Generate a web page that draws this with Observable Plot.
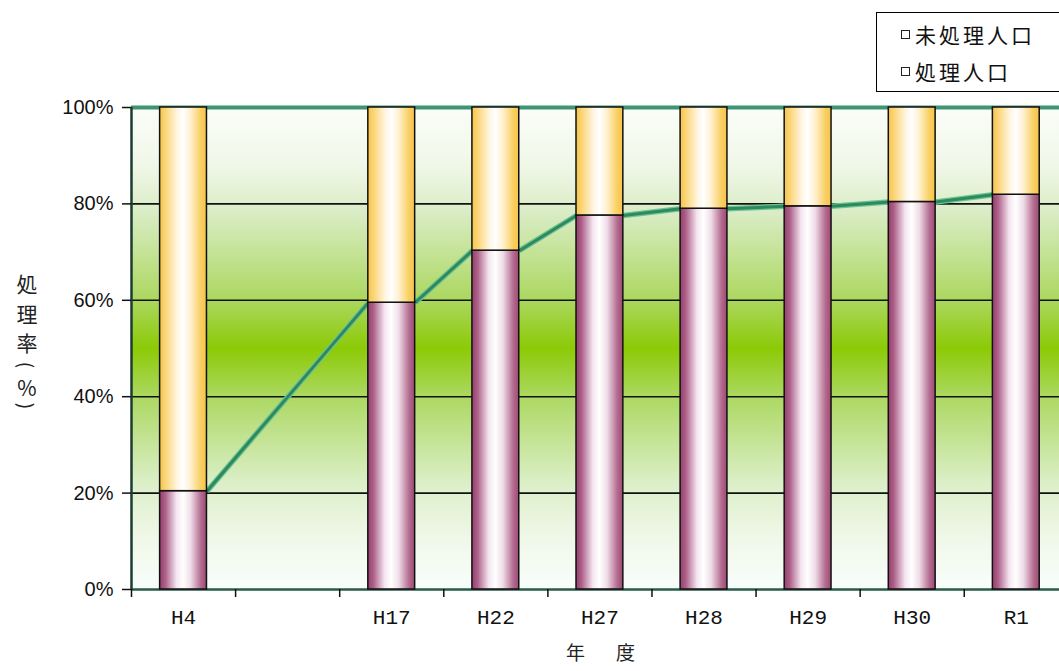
<!DOCTYPE html>
<html>
<head>
<meta charset="utf-8">
<script src="https://cdn.jsdelivr.net/npm/d3@7"></script>
<script src="https://cdn.jsdelivr.net/npm/@observablehq/plot@0.6"></script>
<style>
  html, body { margin: 0; padding: 0; background: #fff; overflow: hidden; }
  #wrap { position: relative; width: 1059px; height: 671px; }
  #wrap svg { display: block; max-width: none; }
  .legend { position: absolute; left: 876px; top: 12px; width: 200px; height: 80px; border: 1px solid #000; background: #fff; box-sizing: border-box; font-family: "Noto Sans CJK JP", sans-serif; font-size: 21px; color: #111; }
  .legend .item { position: absolute; left: 24px; display: flex; align-items: center; letter-spacing: 3px; white-space: nowrap; line-height: 26px; }
  .legend .key { display: inline-block; width: 7px; height: 7px; border: 1px solid #222; background: #fff; margin-right: 5px; }
  .ych { position: absolute; width: 30px; text-align: center; font-family: "Noto Sans CJK JP", sans-serif; color: #222; }
  .xtitle { position: absolute; left: 566px; top: 640px; font-family: "Noto Sans CJK JP", sans-serif; font-size: 19px; color: #222; letter-spacing: 6px; white-space: nowrap; line-height: 24px; }
</style>
</head>
<body>
<div id="wrap"></div>
<script>
// ---- data ----
const categories = ["H4", "", "H17", "H22", "H27", "H28", "H29", "H30", "R1"];
const treatedPct = [20.4, null, 59.5, 70.3, 77.6, 79.0, 79.5, 80.4, 81.9];
const yTicks = [0, 20, 40, 60, 80, 100];
const yTickLabels = ["0%", "20%", "40%", "60%", "80%", "100%"];
const legendLabels = ["未処理人口", "処理人口"];
const yTitleChars = ["処", "理", "率", "(", "%", ")"];
const xTitle = "年　度";

// ---- build ----
const rows = categories.map((c, i) => ({i, c, v: treatedPct[i]})).filter(d => d.v != null);
const labelled = categories.map((c, i) => ({i, c})).filter(d => d.c !== "");
const inset = 0.275;
const segs = [];
for (let k = 0; k < rows.length - 1; k++) {
  segs.push({x1: rows[k].i + 1 - inset, y1: rows[k].v, x2: rows[k + 1].i + inset, y2: rows[k + 1].v});
}

const chart = Plot.plot({
  width: 1059,
  height: 671,
  marginLeft: 131,
  marginRight: 0,
  marginTop: 107,
  marginBottom: 82,
  x: {domain: [0, 8.915], axis: null},
  y: {domain: [0, 100], axis: null},
  style: {background: "transparent", overflow: "visible"},
  marks: [
    Plot.frame({fill: "url(#bgGrad)", stroke: null}),
    Plot.ruleY([20, 40, 60, 80], {stroke: "#111", strokeWidth: 1.6}),
    Plot.ruleY([100], {stroke: "#3f9474", strokeWidth: 4}),
    Plot.ruleY([0], {stroke: "#2a5a48", strokeWidth: 2.5}),
    Plot.link(segs, {x1: "x1", y1: "y1", x2: "x2", y2: "y2", stroke: "#6fc296", strokeWidth: 5.5}),
    Plot.link(segs, {x1: "x1", y1: "y1", x2: "x2", y2: "y2", stroke: "#2c8a5c", strokeWidth: 3}),
    Plot.rect(rows, {x1: d => d.i + inset, x2: d => d.i + 1 - inset, y1: 0, y2: "v", fill: "url(#gMaroon)", stroke: "#111", strokeWidth: 1.5}),
    Plot.rect(rows, {x1: d => d.i + inset, x2: d => d.i + 1 - inset, y1: "v", y2: 100, fill: "url(#gYellow)", stroke: "#111", strokeWidth: 1.5}),
    Plot.ruleX([0], {stroke: "#1d3d30", strokeWidth: 2.5}),
    Plot.axisY({ticks: yTicks, tickFormat: d => yTickLabels[yTicks.indexOf(d)], tickSize: 9, tickPadding: 9,
      fontSize: 20, fontFamily: "Liberation Sans, Arial, sans-serif", letterSpacing: -0.6, stroke: "#111", strokeWidth: 1.5, fill: "#111"}),
    Plot.axisX({ticks: d3.range(0, 9), tickFormat: () => "", tickSize: 8, stroke: "#111", strokeWidth: 1.5}),
    Plot.text(labelled, {x: d => d.i + 0.5, y: 0, text: "c", dy: 28, fontSize: 21, fontFamily: "Liberation Mono, monospace", fill: "#111"})
  ]
});

const defs = `
<defs>
  <linearGradient id="bgGrad" x1="0" y1="0" x2="0" y2="1">
    <stop offset="0" stop-color="#fbfdf8"/>
    <stop offset="0.12" stop-color="#f0f7e8"/>
    <stop offset="0.22" stop-color="#d9ecc4"/>
    <stop offset="0.4" stop-color="#abd75e"/>
    <stop offset="0.5" stop-color="#8cca06"/>
    <stop offset="0.6" stop-color="#acd862"/>
    <stop offset="0.78" stop-color="#dcefc8"/>
    <stop offset="0.9" stop-color="#f1f8ea"/>
    <stop offset="1" stop-color="#f8fefb"/>
  </linearGradient>
  <linearGradient id="gMaroon" x1="0" y1="0" x2="1" y2="0">
    <stop offset="0" stop-color="#963f6c"/>
    <stop offset="0.12" stop-color="#ad6089"/>
    <stop offset="0.36" stop-color="#f4e6f0"/>
    <stop offset="0.5" stop-color="#ffffff"/>
    <stop offset="0.66" stop-color="#efdde8"/>
    <stop offset="0.88" stop-color="#b46c90"/>
    <stop offset="1" stop-color="#9c4a74"/>
  </linearGradient>
  <linearGradient id="gYellow" x1="0" y1="0" x2="1" y2="0">
    <stop offset="0" stop-color="#f6c44c"/>
    <stop offset="0.12" stop-color="#fbd474"/>
    <stop offset="0.38" stop-color="#fff6e4"/>
    <stop offset="0.5" stop-color="#ffffff"/>
    <stop offset="0.66" stop-color="#fff0cf"/>
    <stop offset="0.88" stop-color="#f9cf62"/>
    <stop offset="1" stop-color="#f6c44a"/>
  </linearGradient>
</defs>`;
d3.select(chart).insert("g", ":first-child").html(defs);

const wrap = document.getElementById("wrap");
wrap.appendChild(chart);

// legend
const legend = document.createElement("div");
legend.className = "legend";
legendLabels.forEach((t, k) => {
  const it = document.createElement("div");
  it.className = "item";
  it.style.top = (k === 0 ? 8 : 45) + "px";
  const key = document.createElement("span");
  key.className = "key";
  it.appendChild(key);
  it.appendChild(document.createTextNode(t));
  legend.appendChild(it);
});
wrap.appendChild(legend);

// y title (vertical, one character per line)
const yCenters = [283, 313, 342, 365, 387, 406];
yTitleChars.forEach((ch, k) => {
  const s = document.createElement("div");
  s.className = "ych";
  s.textContent = ch;
  const paren = ch === "(" || ch === ")";
  const fs = paren ? 19 : 21;
  const lh = paren ? 10 : 23;
  s.style.fontSize = fs + "px";
  s.style.lineHeight = lh + "px";
  s.style.height = lh + "px";
  s.style.left = "12px";
  s.style.top = (yCenters[k] - lh / 2) + "px";
  if (paren) s.style.transform = "rotate(90deg)";
  wrap.appendChild(s);
});

// x title
const xt = document.createElement("div");
xt.className = "xtitle";
xt.textContent = xTitle;
wrap.appendChild(xt);
</script>
</body>
</html>
